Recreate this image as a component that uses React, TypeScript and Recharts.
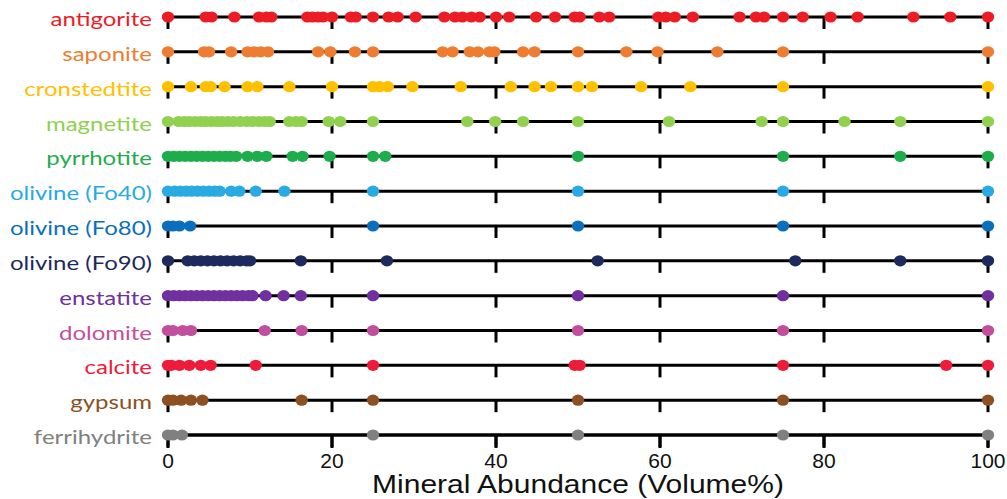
import { ScatterChart, Scatter, XAxis, YAxis, ReferenceLine } from 'recharts';

const minerals = [
  'antigorite', 'saponite', 'cronstedtite', 'magnetite', 'pyrrhotite',
  'olivine (Fo40)', 'olivine (Fo80)', 'olivine (Fo90)', 'enstatite',
  'dolomite', 'calcite', 'gypsum', 'ferrihydrite',
];

const colors = [
  '#ED1C24', '#EE7D31', '#FFC000', '#92D050', '#1EAD4B',
  '#29AAE2', '#0B6FBE', '#1D2A5D', '#7030A0',
  '#C24E9E', '#EE1B3A', '#8C5022', '#808080',
];

// volume% values, one list per mineral
const antigorite = [0, 4.6, 5.3, 8.1, 11.1, 12.0, 12.6, 17.0, 17.6, 18.3, 18.9, 20.0, 22.3, 22.9, 25, 26.9, 28.0, 30.2, 33.7, 35.0, 35.9, 37.0, 38.0, 40.0, 41.6, 44.9, 47.2, 49.6, 50.2, 52.6, 53.8, 59.8, 60.7, 61.8, 64.0, 69.7, 71.7, 72.7, 75, 77.4, 80.8, 84.1, 90.9, 95.4, 100];
const saponite = [0, 4.4, 5.0, 7.7, 9.7, 10.5, 11.3, 12.2, 18.3, 19.8, 22.8, 25, 33.5, 34.7, 36.8, 37.8, 39.2, 39.8, 43.3, 44.7, 50, 55.9, 59.7, 67.0, 75, 100];
const cronstedtite = [0, 2.8, 4.6, 5.2, 6.9, 9.7, 10.9, 14.8, 20.0, 25, 25.8, 26.8, 29.8, 35.7, 41.8, 44.7, 46.7, 50, 51.7, 57.7, 63.7, 75, 100];
const magnetite = [0, 1.3, 2.0, 2.6, 3.3, 4.0, 4.6, 5.3, 6.0, 6.6, 7.3, 8.0, 8.8, 9.6, 10.3, 11.1, 11.8, 12.4, 14.8, 15.6, 16.3, 19.6, 21.0, 25, 36.5, 39.9, 43.3, 50, 61.1, 72.4, 75, 82.5, 89.3, 100];
const pyrrhotite = [0, 0.7, 1.4, 2.1, 2.8, 3.5, 4.2, 4.9, 5.6, 6.3, 7.0, 7.6, 8.3, 9.7, 10.9, 12.0, 15.2, 16.4, 19.7, 25, 26.5, 50, 75, 89.3, 100];
const olivineFo40 = [0, 0.8, 1.5, 2.2, 2.9, 3.6, 4.3, 5.0, 5.7, 6.3, 7.7, 8.7, 10.7, 14.2, 25, 50, 75, 100];
const olivineFo80 = [0, 0.6, 1.4, 2.7, 25, 50, 75, 100];
const olivineFo90 = [0, 2.4, 3.2, 4.0, 4.8, 5.6, 6.4, 7.2, 8.0, 8.8, 9.6, 10.0, 16.2, 26.7, 52.4, 76.5, 89.3, 100];
const enstatite = [0, 0.7, 1.4, 2.1, 2.8, 3.5, 4.2, 4.9, 5.6, 6.3, 7.0, 7.7, 8.4, 9.1, 9.8, 10.3, 11.9, 14.1, 16.2, 25, 50, 75, 100];
const dolomite = [0, 0.6, 1.8, 2.8, 11.8, 16.3, 25, 50, 75, 100];
const calcite = [0, 0.4, 1.4, 2.6, 4.0, 5.2, 10.7, 25, 49.6, 50.2, 75, 94.9, 100];
const gypsum = [0, 0.6, 1.6, 2.8, 4.2, 16.3, 25, 50, 75, 100];
const ferrihydrite = [0, 0.6, 1.7, 25, 50, 75, 100];

const values = [
  antigorite, saponite, cronstedtite, magnetite, pyrrhotite,
  olivineFo40, olivineFo80, olivineFo90, enstatite,
  dolomite, calcite, gypsum, ferrihydrite,
];

const xTicks = [0, 20, 40, 60, 80, 100];
const rowIdx = minerals.map((_, i) => i);

const rows = minerals.map((name, i) => ({
  name,
  color: colors[i],
  points: values[i].map((v) => ({ x: v, y: i })),
}));

// small tick marks hanging under every row line
const rowTicks = rowIdx.flatMap((i) => xTicks.map((t) => ({ x: t, y: i })));

const MineralTick = (props: any) => {
  const { x, y, payload } = props;
  const i = payload.value;
  return (
    <g transform={`translate(${x},${y + 9}) scale(1.2,1)`}>
      <text x={0} y={0} textAnchor="end" fill={colors[i]} fontSize={20} fontFamily="Lato, sans-serif">
        {minerals[i]}
      </text>
    </g>
  );
};

const ValueTick = (props: any) => {
  const { x, y, payload } = props;
  return (
    <text x={x} y={y + 18} textAnchor="middle" fill="#111" fontSize={21} fontFamily="'Liberation Sans', Arial, sans-serif">
      {payload.value}
    </text>
  );
};

const AxisTitle = (props: any) => {
  const vb = props.viewBox || { x: 168, y: 435, width: 820 };
  return (
    <g transform={`translate(${vb.x + vb.width / 2},${vb.y + 58}) scale(1.2,1)`}>
      <text x={0} y={0} textAnchor="middle" fill="#111" fontSize={25} fontFamily="'Liberation Sans', Arial, sans-serif">
        Mineral Abundance (Volume%)
      </text>
    </g>
  );
};

const Dot = (color: string) => (props: any) => (
  <ellipse cx={props.cx} cy={props.cy} rx={6.2} ry={5.6} fill={color} />
);

const TickMark = (props: any) => (
  <line x1={props.cx} y1={props.cy} x2={props.cx} y2={props.cy + 12} stroke="#000" strokeWidth={3} />
);

export default function App() {
  return (
    <div style={{ position: 'absolute', left: 0, top: 0, width: 1007, height: 499, background: '#fff' }}>
      <ScatterChart width={1007} height={499} margin={{ top: 17, right: 19, bottom: 34, left: 0 }}>
        <XAxis
          type="number"
          dataKey="x"
          domain={[0, 100]}
          ticks={xTicks}
          interval={0}
          height={30}
          axisLine={{ stroke: '#000', strokeWidth: 3 }}
          tickLine={{ stroke: '#000', strokeWidth: 3 }}
          tickSize={13}
          tick={<ValueTick />}
          label={{ content: <AxisTitle /> }}
        />
        <YAxis
          type="number"
          dataKey="y"
          domain={[0, 12]}
          reversed
          ticks={rowIdx}
          interval={0}
          width={168}
          axisLine={false}
          tickLine={false}
          tickSize={0}
          tickMargin={16}
          tick={<MineralTick />}
        />
        {rowIdx.map((i) => (
          <ReferenceLine key={i} y={i} stroke="#000" strokeWidth={3} />
        ))}
        <Scatter data={rowTicks} shape={TickMark} isAnimationActive={false} />
        {rows.map((r) => (
          <Scatter key={r.name} name={r.name} data={r.points} shape={Dot(r.color)} isAnimationActive={false} />
        ))}
      </ScatterChart>
    </div>
  );
}
